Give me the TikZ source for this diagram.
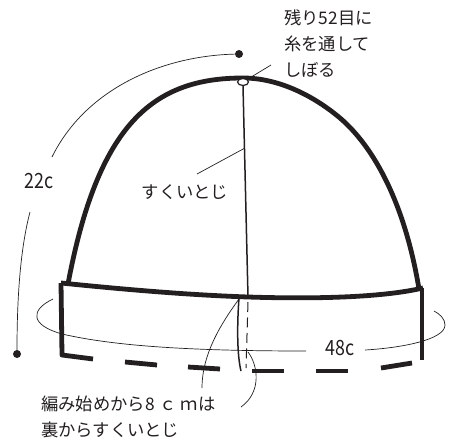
\documentclass[tikz,border=0pt]{standalone}
\usepackage{fontspec}
\usetikzlibrary{shapes.geometric}
\setmainfont{Noto Sans CJK JP}
\newfontfamily\narrowdigits[FakeStretch=0.85]{Noto Sans CJK JP}
\begin{document}
\begin{tikzpicture}[x=1pt,y=-1pt,
  thick line/.style={line width=4.8pt,color=ink},
  thin line/.style={line width=0.7pt,color=ink},
  med line/.style={line width=1.5pt,color=ink},
  label text/.style={text=ink,font=\fontsize{17.3}{26}\selectfont,inner sep=0pt,align=left},
  dim text/.style={text=ink,font=\narrowdigits\fontsize{21}{25}\selectfont,inner sep=0pt},
  dot/.style={circle,fill=ink,inner sep=0pt,minimum size=8pt}]
\definecolor{ink}{HTML}{231F20}
\useasboundingbox (0,0) rectangle (454,441);
% named points
\coordinate (brimTL) at (61,283);
\coordinate (brimTR) at (423,288);
\coordinate (brimM) at (248,297);
% dome
\draw[thick line] (68,284) .. controls (98,124) and (153,78) .. (243,78)
  .. controls (280,78) and (315,97) .. (340,118)
  .. controls (375,148) and (405,205) .. (419,289);
% brim
\draw[thick line] (brimTL) .. controls (130,290) and (190,295) .. (brimM)
  .. controls (310,299) and (380,298) .. (brimTR);
\draw[thick line,line join=round] (93,359) -- (62,355) -- (brimTL);
\draw[thick line] (422,288) -- (422,360);
% hem dashes
\draw[thick line] (125,362) -- (157,365);
\draw[thick line] (188,367) -- (220,369);
\draw[thick line] (252,371) -- (284,371);
\draw[thick line] (316,371) -- (348,371);
\draw[thick line] (381,368) -- (412,363);
% hole and centre seam
\node[draw=ink,fill=white,line width=1.2pt,ellipse,minimum width=11pt,minimum height=7pt,inner sep=0pt] (hole) at (243,82) {};
\draw[med line] (hole.south) -- (brimM);
\draw[med line] (239,298) .. controls (237,325) and (237,355) .. (241,371);
\draw[thin line,line width=1pt,dash pattern=on 10pt off 5.5pt] (248,302) -- (246,368);
% circumference
\draw[thin line] (53,299) .. controls (30,310) and (30,325) .. (62,334)
  .. controls (110,345) and (180,351) .. (306,351);
\draw[thin line] (365,350) .. controls (400,348) and (445,340) .. (445,325)
  .. controls (445,319) and (440,314) .. (434,311);
% height
\node[dot] (dotT) at (239,54) {};
\node[dot] (dotB) at (17,354) {};
\draw[thin line] (dotT) .. controls (160,56) and (85,90) .. (52,157);
\draw[thin line] (30,212) .. controls (20,250) and (17,300) .. (dotB);
% leaders
\draw[thin line] (271,65) -- (hole);
\draw[thin line] (197,174) -- (245,148);
\draw[thin line] (239,299) .. controls (220,325) and (202,355) .. (202,388);
\draw[thin line] (248,352) .. controls (258,365) and (262,392) .. (241,407);
% labels
\node[label text,anchor=north west] (t1) at (284,9.5) {残り52目に\\糸を通して\\しぼる};
\node[label text,anchor=center] (t2) at (185,192) {すくいとじ};
\node[dim text,anchor=center] (t3) at (39,181) {22c};
\node[dim text,anchor=center] (t4) at (340,348) {48c};
\node[label text,anchor=north west] (t5) at (41,396) {編み始めから8\hspace{5pt}ｃ\hspace{4pt}ｍは\\裏からすくいとじ};
\end{tikzpicture}
\end{document}
